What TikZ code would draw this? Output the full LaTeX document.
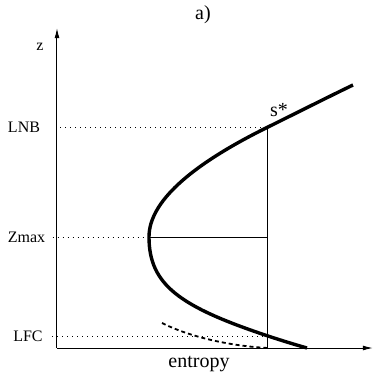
\documentclass[tikz,border=0pt]{standalone}
\usepackage{fontspec}
\setmainfont{Liberation Serif}
\usetikzlibrary{arrows.meta, positioning, calc}
\tikzset{
    axisline/.style={-{Latex[length=5pt, width=2.4pt]}, line width=0.5pt},
    guide/.style={dotted, line width=0.5pt},
    thinline/.style={line width=0.5pt},
    branch/.style={line width=1.7pt},
    lowbranch/.style={dash pattern=on 2pt off 1.5pt, line width=0.9pt},
    levellabel/.style={inner sep=1pt, font=\fontsize{8}{9.6}\selectfont},
}

\begin{document}
\begin{tikzpicture}[x=0.5pt, y=-0.5pt, font=\normalsize]
    \useasboundingbox (0,0) rectangle (374,377);
    \coordinate (o) at (57,348);
    \coordinate (ztip) at (57,28);
    \coordinate (stip) at (373,348);
    \coordinate (top) at (353,85);
    \coordinate (snb) at (268,127);
    \coordinate (vx) at (149,237);
    \coordinate (sfc) at (268,336);
    \coordinate (sbase) at (268,348);
    \coordinate (send) at (307,348);
    \node (title) at (203,15) {a)};
    \node[levellabel] (zlab) at (40,47) {z};
    \node (elab) at (199,364) {entropy};
    \node[levellabel] (lnb) at (24,127) {LNB};
    \node[levellabel] (zmax) at (26.5,237) {Zmax};
    \node[levellabel] (lfc) at (28,336) {LFC};
    \node (star) at (279,110) {s*};
    \draw[axisline] (o) -- (ztip);
    \draw[axisline] (o) -- (stip);
    \draw[guide] ([xshift=9pt]lnb.east) -- (snb);
    \draw[guide] ([xshift=2.5pt]zmax.east) -- (vx);
    \draw[guide] ([xshift=3.5pt]lfc.east) -- (sfc);
    \draw[thinline] (snb) -- (sbase);
    \draw[thinline] (vx) -- (snb |- vx);
    \draw[branch] (top) .. controls (325,98.5) and (296,113.2) .. (snb)
        .. controls (188.7,166.1) and (149,202.7) .. (vx)
        .. controls (149,285) and (180,306.7) .. (sfc)
        .. controls (281,340.3) and (294,344.3) .. (send);
    \draw[lowbranch] (162,323) .. controls (190,337) and (230,346) .. (sbase);
\end{tikzpicture}
\end{document}
